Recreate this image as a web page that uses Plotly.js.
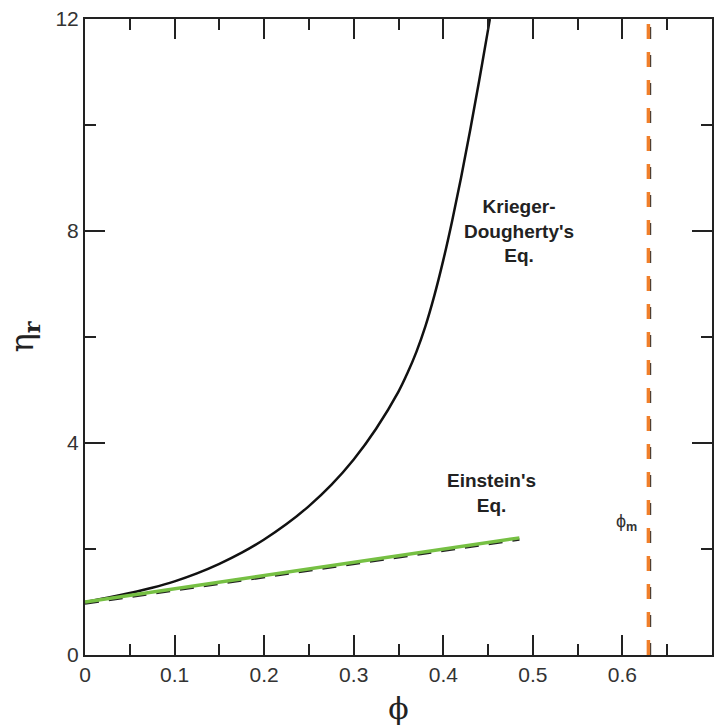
<!DOCTYPE html>
<html>
<head>
<meta charset="utf-8">
<script src="https://cdn.plot.ly/plotly-3.0.1.min.js"></script>
<style>html,body{margin:0;padding:0;background:#fff}#chart{width:725px;height:726px}</style>
</head>
<body>
<div id="chart"></div>
<script>
// Krieger-Dougherty curve
const kdPhi = [0, 0.025, 0.05, 0.075, 0.1, 0.125, 0.15, 0.175, 0.2, 0.225, 0.25, 0.275, 0.3, 0.325, 0.35, 0.36, 0.37, 0.38, 0.39, 0.4, 0.41, 0.42, 0.43, 0.44, 0.45, 0.452];
const kdEta = [1.00, 1.08, 1.17, 1.27, 1.39, 1.54, 1.72, 1.93, 2.18, 2.47, 2.81, 3.21, 3.69, 4.27, 4.97, 5.32, 5.72, 6.2, 6.78, 7.45, 8.2, 9.02, 9.9, 10.83, 11.8, 12.0];
// Einstein's equation (straight line endpoints)
const einPhi = [0, 0.485];
const einEta = [1.0, 2.21];
const einDashEta = [0.97, 2.18];
// Maximum packing fraction line
const phiM = 0.631;
const phiMOrange = 0.629;
const vEta = [0, 12];
// Tick labels
const xTicks = [0, 0.1, 0.2, 0.3, 0.4, 0.5, 0.6, 0.7];
const xTickText = ['0', '0.1', '0.2', '0.3', '0.4', '0.5', '0.6', '0.7'];
const yTicks = [0, 4, 8, 12];

const traces = [
  {x: kdPhi, y: kdEta, mode: 'lines', line: {color: '#111', width: 2.5, shape: 'spline', smoothing: 1}, hoverinfo: 'skip', cliponaxis: true},
  {x: einPhi, y: einDashEta, mode: 'lines', line: {color: '#222', width: 2.5, dash: '14px,10px'}, hoverinfo: 'skip'},
  {x: einPhi, y: einEta, mode: 'lines', line: {color: '#76c043', width: 3.5}, hoverinfo: 'skip'},
  {x: [phiM, phiM], y: vEta, mode: 'lines', line: {color: '#333', width: 2, dash: '12px,16px'}, hoverinfo: 'skip'},
  {x: [phiMOrange, phiMOrange], y: vEta, mode: 'lines', line: {color: '#f07f2a', width: 3.5, dash: '15px,13px'}, hoverinfo: 'skip'}
];

const axisCommon = {
  showgrid: false, zeroline: false, showline: true, linecolor: '#222', linewidth: 2,
  mirror: 'allticks', ticks: 'inside', ticklen: 20, tickwidth: 2, tickcolor: '#222',
  tickfont: {family: 'Liberation Sans, Arial, sans-serif', size: 21, color: '#333'}
};

const layout = {
  width: 725, height: 726,
  margin: {l: 85, r: 13, t: 19, b: 71},
  paper_bgcolor: '#fff', plot_bgcolor: '#fff',
  showlegend: false,
  xaxis: Object.assign({}, axisCommon, {
    range: [0, 0.7], tickmode: 'array', tickvals: xTicks, ticktext: xTickText,
    minor: {dtick: 0.05, tick0: 0, ticks: 'inside', ticklen: 11, tickwidth: 2, tickcolor: '#222'},
    title: {text: 'ϕ', font: {family: 'DejaVu Serif, serif', size: 30, color: '#222'}, standoff: 14}
  }),
  yaxis: Object.assign({}, axisCommon, {
    range: [0, 12], tickmode: 'array', tickvals: yTicks,
    minor: {dtick: 2, tick0: 0, ticks: 'inside', ticklen: 11, tickwidth: 2, tickcolor: '#222'},
    title: {text: 'η<sub><b>r</b></sub>', font: {family: 'DejaVu Serif, serif', size: 32, color: '#222'}, standoff: 12}
  }),
  annotations: [
    {x: 0.485, y: 8.0, xref: 'x', yref: 'y', text: '<b>Krieger-<br>Dougherty\'s<br>Eq.</b>', showarrow: false,
     font: {family: 'Liberation Sans, Arial, sans-serif', size: 19, color: '#222'}, align: 'center'},
    {x: 0.454, y: 3.05, xref: 'x', yref: 'y', text: '<b>Einstein\'s<br>Eq.</b>', showarrow: false,
     font: {family: 'Liberation Sans, Arial, sans-serif', size: 19, color: '#222'}, align: 'center'},
    {x: 0.604, y: 2.5, xref: 'x', yref: 'y', text: 'ϕ<sub><b>m</b></sub>', showarrow: false,
     font: {family: 'Liberation Sans, Arial, sans-serif', size: 18, color: '#333'}}
  ]
};

Plotly.newPlot('chart', traces, layout, {staticPlot: true, displayModeBar: false});
</script>
</body>
</html>
